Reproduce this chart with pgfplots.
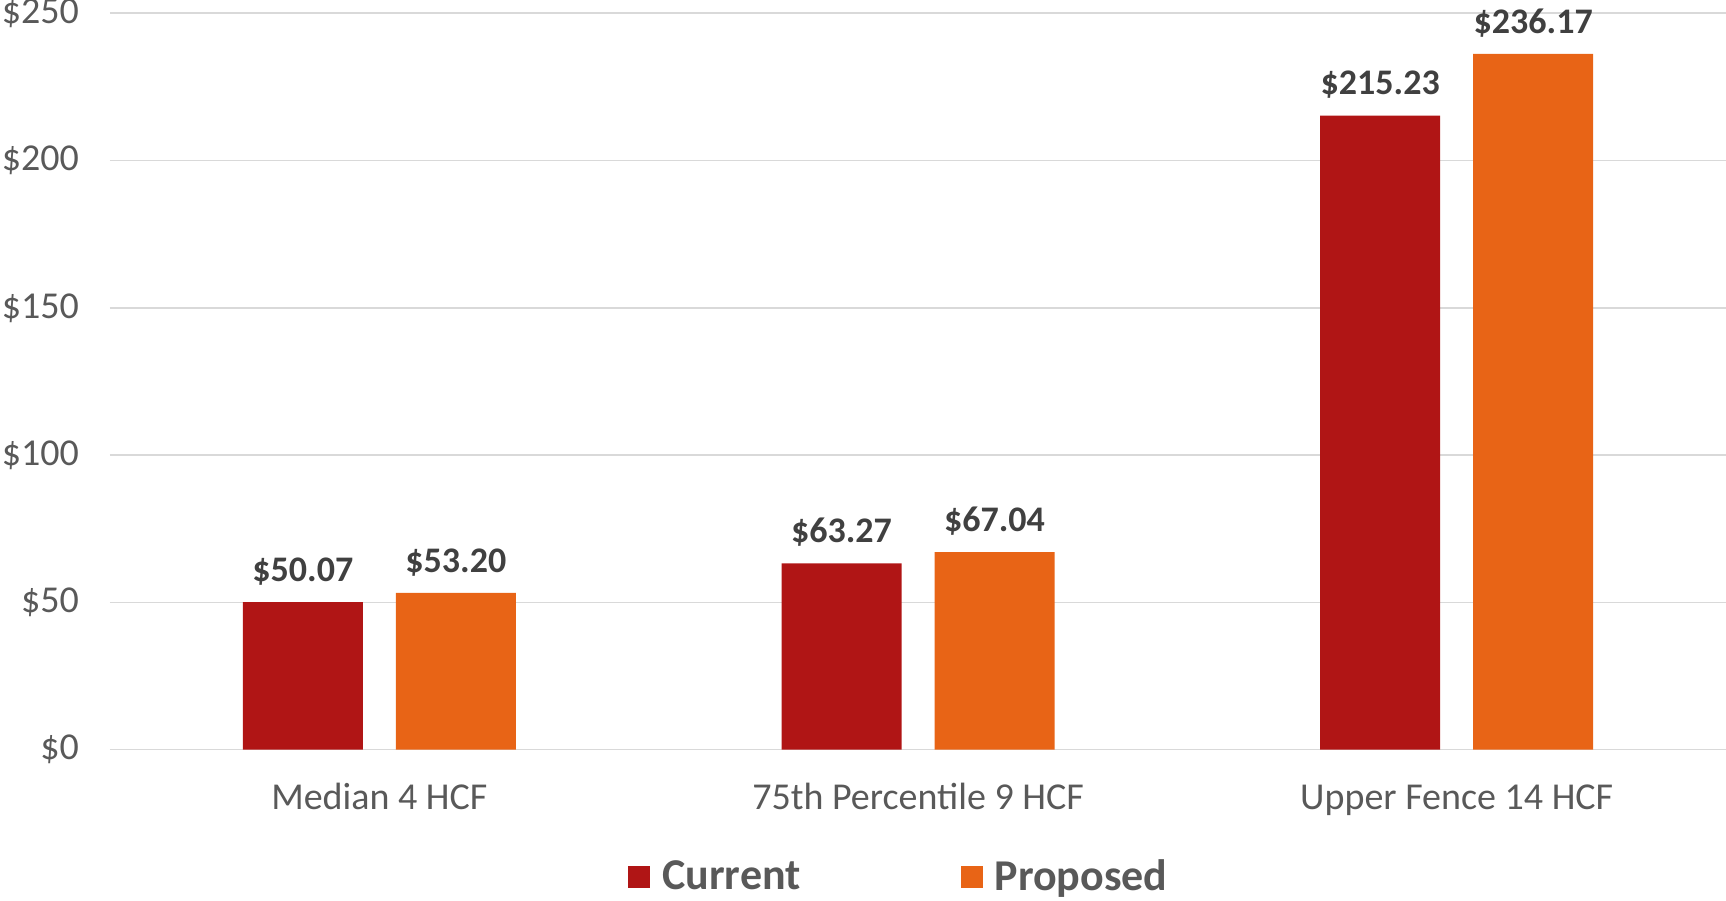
\documentclass[border=0pt]{standalone}
\usepackage{pgfplots}
\pgfplotsset{compat=1.18}
\usepackage{fontspec}
\setmainfont{Carlito}
\definecolor{cur}{HTML}{B01515}
\definecolor{prop}{HTML}{E86416}
\definecolor{gridgray}{HTML}{D9D9D9}
\definecolor{ticktext}{HTML}{595959}
\definecolor{valtext}{HTML}{404040}

\begin{document}
\begin{tikzpicture}
\begin{axis}[
  name=ax,
  scale only axis, width=808pt, height=368.25pt,
  xmin=-0.5, xmax=2.5, ymin=0, ymax=250,
  ybar=16.5pt, bar width=60pt,
  xtick={0,1,2},
  xticklabels={Median 4 HCF, 75th Percentile 9 HCF, Upper Fence 14 HCF},
  ytick={0,50,...,250},
  yticklabels={\$0,\$50,\$100,\$150,\$200,\$250},
  axis line style={draw=none}, major tick style={draw=none},
  ymajorgrids, grid style={gridgray, line width=0.75pt},
  tick label style={font=\fontsize{19}{22}\selectfont, text=ticktext},
  xticklabel style={anchor=base, yshift=-25.6pt},
  yticklabel style={anchor=east, xshift=-12pt},
  /pgf/number format/assume math mode=true,
  nodes near coords={\$\pgfmathprintnumber[fixed,fixed zerofill,precision=2]{\pgfplotspointmeta}},
  nodes near coords style={font=\bfseries\fontsize{18}{21}\selectfont, text=valtext, anchor=south, yshift=5pt},
  clip=false,
  legend columns=2,
  legend style={draw=none, fill=none, at={(axis description cs:0.3168,-0.1727)}, anchor=west,
    font=\bfseries\fontsize{22}{26}\selectfont, text=ticktext,
    /tikz/every odd column/.append style={column sep=4pt},
    /tikz/every even column/.append style={column sep=78pt}},
  legend image code/.code={\fill[#1,draw=none] (0pt,-5.5pt) rectangle (11pt,5.5pt);},
]
\addplot[fill=cur, draw=none] coordinates {(0,50.07) (1,63.27) (2,215.23)};
\addlegendentry{Current}
\addplot[fill=prop, draw=none] coordinates {(0,53.20) (1,67.04) (2,236.17)};
\addlegendentry{Proposed}
\end{axis}
\pgfresetboundingbox
\path[use as bounding box] ([shift={(-55pt,-75.15pt)}]ax.south west) rectangle ([shift={(0pt,6.6pt)}]ax.north east);
\end{tikzpicture}
\end{document}
